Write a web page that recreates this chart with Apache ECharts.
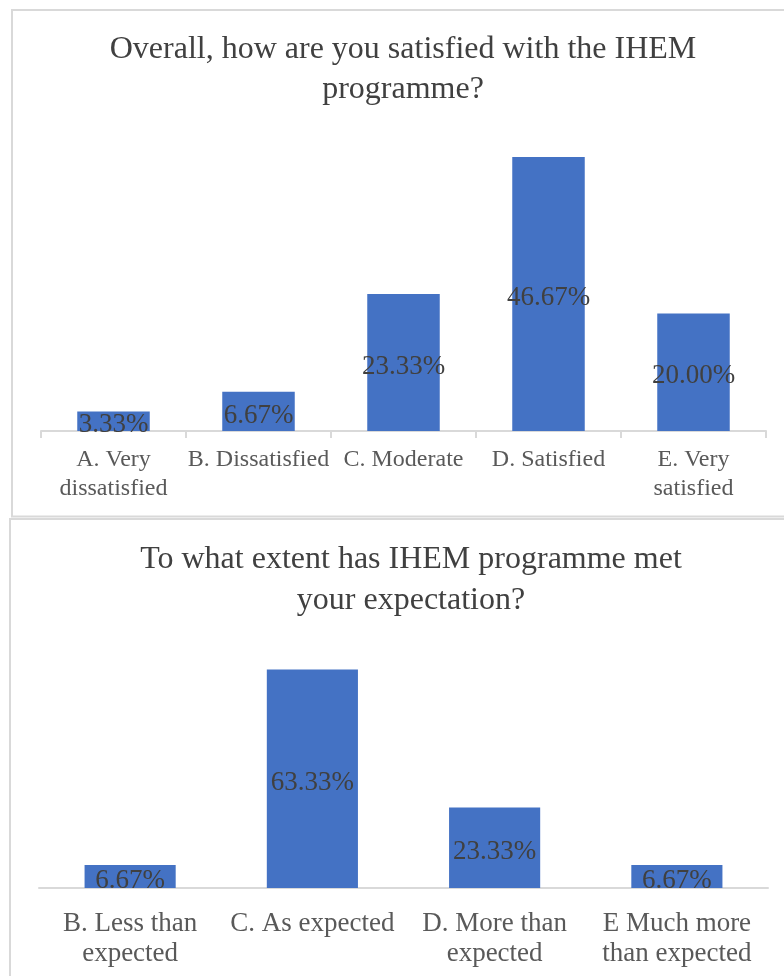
<!DOCTYPE html>
<html>
<head>
<meta charset="utf-8">
<title>IHEM programme survey</title>
<script src="https://cdn.jsdelivr.net/npm/echarts@6/dist/echarts.min.js"></script>
<style>
    html, body { margin: 0; padding: 0; background: #fff; overflow: hidden; }
    #chart { width: 784px; height: 976px; }
</style>
</head>
<body>
<div id="chart"></div>
<script>
    // chart 1 - overall satisfaction
    var satTitle = 'Overall, how are you satisfied with the IHEM\nprogramme?';
    var satCategories = ['A. Very\ndissatisfied', 'B. Dissatisfied', 'C. Moderate', 'D. Satisfied', 'E. Very\nsatisfied'];
    var satValues = [3.33, 6.67, 23.33, 46.67, 20.00];

    // chart 2 - expectation
    var expTitle = 'To what extent has IHEM programme met\nyour expectation?';
    var expCategories = ['B. Less than\nexpected', 'C. As expected', 'D. More than\nexpected', 'E Much more\nthan expected'];
    var expValues = [6.67, 63.33, 23.33, 6.67];

    var serif = '"Liberation Serif", "Times New Roman", serif';
    var barColor = '#4472C4';
    var gridLine = '#d9d9d9';

    var myChart = echarts.init(document.getElementById('chart'));

    // label inside bar, e.g. 46.67%
    function pct(p) {
        return p.value.toFixed(2) + '%';
    }

    myChart.setOption({
        animation: false,
        graphic: [
            //外框
            {
                type: 'rect',
                shape: {x: 12, y: 10, width: 800, height: 506.5},
                style: {fill: null, stroke: gridLine, lineWidth: 2},
                silent: true
            },
            {
                type: 'rect',
                shape: {x: 10, y: 519, width: 800, height: 500},
                style: {fill: null, stroke: gridLine, lineWidth: 2},
                silent: true
            }
        ],
        title: [
            {
                text: satTitle,
                left: 403,
                top: 30,
                padding: 0,
                textAlign: 'center',
                textStyle: {
                    fontFamily: serif,
                    fontSize: 32,
                    fontWeight: 'normal',
                    color: '#404040',
                    lineHeight: 40
                }
            },
            {
                text: expTitle,
                left: 411,
                top: 539,
                padding: 0,
                textAlign: 'center',
                textStyle: {
                    fontFamily: serif,
                    fontSize: 32,
                    fontWeight: 'normal',
                    color: '#404040',
                    lineHeight: 41
                }
            }
        ],
        grid: [
            {left: 41, right: 18, top: 137.5, height: 293.5},
            {left: 39, right: 16, top: 646.5, height: 241.5}
        ],
        xAxis: [
            {
                type: 'category',
                gridIndex: 0,
                data: satCategories,
                axisLine: {lineStyle: {color: gridLine, width: 2}},
                axisTick: {show: true, length: 7, lineStyle: {color: gridLine, width: 2}},
                axisLabel: {
                    interval: 0,
                    margin: 14,
                    color: '#595959',
                    fontFamily: serif,
                    fontSize: 24,
                    lineHeight: 29,
                    verticalAlign: 'top'
                }
            },
            {
                type: 'category',
                gridIndex: 1,
                data: expCategories,
                axisLine: {lineStyle: {color: gridLine, width: 2}},
                axisTick: {show: false},
                axisLabel: {
                    interval: 0,
                    margin: 21,
                    color: '#595959',
                    fontFamily: serif,
                    fontSize: 27,
                    lineHeight: 30,
                    verticalAlign: 'top'
                }
            }
        ],
        yAxis: [
            {type: 'value', gridIndex: 0, min: 0, max: 50, show: false},
            {type: 'value', gridIndex: 1, min: 0, max: 70, show: false}
        ],
        series: [
            {
                name: 'satisfied',
                type: 'bar',
                xAxisIndex: 0,
                yAxisIndex: 0,
                data: satValues,
                barCategoryGap: '50%',
                itemStyle: {color: barColor},
                label: {
                    show: true,
                    position: 'inside',
                    offset: [0, 4],
                    formatter: pct,
                    color: '#404040',
                    fontFamily: serif,
                    fontSize: 27
                }
            },
            {
                name: 'expectation',
                type: 'bar',
                xAxisIndex: 1,
                yAxisIndex: 1,
                data: expValues,
                barCategoryGap: '50%',
                itemStyle: {color: barColor},
                label: {
                    show: true,
                    position: 'inside',
                    offset: [0, 4],
                    formatter: pct,
                    color: '#404040',
                    fontFamily: serif,
                    fontSize: 27
                }
            }
        ]
    });
</script>
</body>
</html>
